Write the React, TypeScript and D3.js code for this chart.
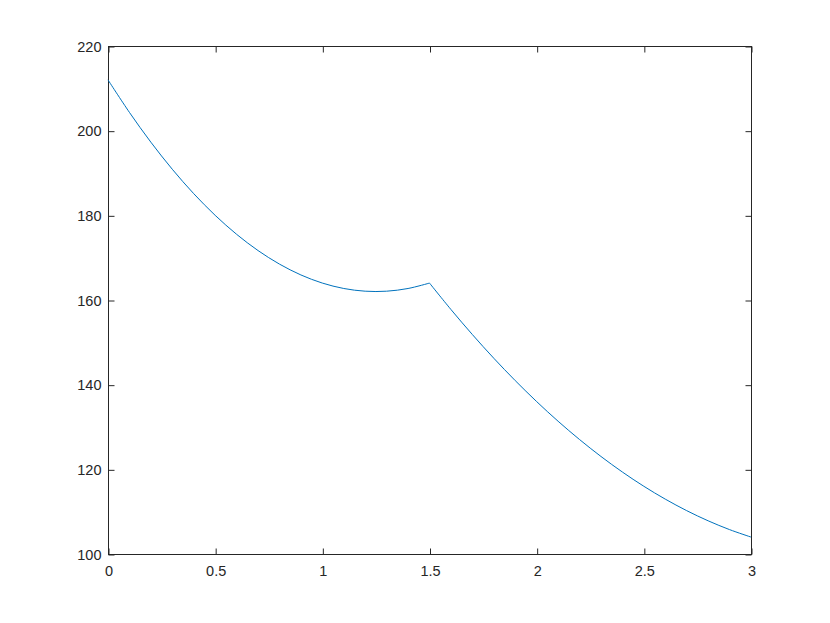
import * as d3 from "d3";
import { useEffect, useRef } from "react";

// values
const tValues = [
  0, 0.1, 0.2, 0.3, 0.4, 0.5, 0.6, 0.7, 0.8, 0.9, 1.0, 1.1, 1.2, 1.3, 1.4, 1.5,
  1.6, 1.7, 1.8, 1.9, 2.0, 2.1, 2.2, 2.3, 2.4, 2.5, 2.6, 2.7, 2.8, 2.9, 3.0,
];
const yValues = [
  212, 204.32, 197.28, 190.88, 185.12, 180, 175.52, 171.68, 168.48, 165.92, 164,
  162.72, 162.08, 162.08, 162.72, 164, 157.76, 151.84, 146.24, 140.96, 136,
  131.36, 127.04, 123.04, 119.36, 116, 112.96, 110.24, 107.84, 105.76, 104,
];
const xTicks = [0, 0.5, 1, 1.5, 2, 2.5, 3];
const yTicks = [100, 120, 140, 160, 180, 200, 220];
const kinkIndex = 15; // the corner at t = 1.5

const App = () => {
  const ref = useRef<SVGSVGElement>(null);

  useEffect(() => {
    const width = 830;
    const height = 623;
    const margin = { top: 46, right: 79, bottom: 69, left: 108 };
    const innerW = width - margin.left - margin.right;
    const innerH = height - margin.top - margin.bottom;
    const axisColor = "#262626";
    const font = "'Liberation Sans', Arial, sans-serif";

    const root = d3.select(ref.current);
    root.selectAll("*").remove();
    const svg = root
      .append("g")
      .attr("transform", `translate(${margin.left},${margin.top})`);

    const x = d3.scaleLinear().domain([0, 3]).range([0, innerW]);
    const y = d3.scaleLinear().domain([100, 220]).range([innerH, 0]);

    // box
    svg.append("rect")
      .attr("x", 0.5)
      .attr("y", 0.5)
      .attr("width", innerW)
      .attr("height", innerH)
      .attr("fill", "none")
      .attr("stroke", axisColor)
      .attr("stroke-width", 1);

    // axes (ticks point inward, on every side)
    const styleAxis = (g: any) => {
      g.select(".domain").remove();
      g.selectAll(".tick line").attr("stroke", axisColor);
      g.selectAll(".tick text")
        .attr("fill", axisColor)
        .attr("font-family", font)
        .attr("font-size", 14.5);
    };

    svg.append("g")
      .attr("transform", `translate(0.5,${innerH + 0.5})`)
      .call(d3.axisBottom(x).tickValues(xTicks).tickFormat(d3.format("")).tickSizeInner(-6).tickPadding(11))
      .call(styleAxis);

    svg.append("g")
      .attr("transform", `translate(0.5,0.5)`)
      .call(d3.axisTop(x).tickValues(xTicks).tickFormat(() => "").tickSizeInner(-6))
      .call(styleAxis);

    svg.append("g")
      .attr("transform", `translate(0.5,0.5)`)
      .call(d3.axisLeft(y).tickValues(yTicks).tickFormat(d3.format("")).tickSizeInner(-6).tickPadding(7))
      .call(styleAxis);

    svg.append("g")
      .attr("transform", `translate(${innerW + 0.5},0.5)`)
      .call(d3.axisRight(y).tickValues(yTicks).tickFormat(() => "").tickSizeInner(-6))
      .call(styleAxis);

    // smooth pieces on each side of the corner
    const pts = tValues.map((t, i) => [t, yValues[i]] as [number, number]);
    const line = d3.line<[number, number]>()
      .x(d => x(d[0]))
      .y(d => y(d[1]))
      .curve(d3.curveCatmullRom);

    [pts.slice(0, kinkIndex + 1), pts.slice(kinkIndex)].forEach(seg => {
      svg.append("path")
        .datum(seg)
        .attr("d", line)
        .attr("fill", "none")
        .attr("stroke", "#0072BD")
        .attr("stroke-width", 1);
    });
  }, []);

  return (
    <svg
      ref={ref}
      width={830}
      height={623}
      style={{ position: "absolute", left: 0, top: 0, background: "#fff" }}
    />
  );
};

export default App;
